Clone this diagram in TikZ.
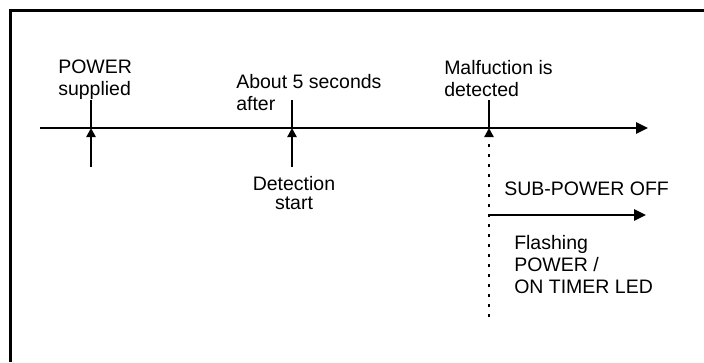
\documentclass[tikz,border=0pt]{standalone}
\usepackage{fontspec}
\setmainfont{Liberation Sans}
\usetikzlibrary{arrows.meta,positioning}

\begin{document}
\begin{tikzpicture}[x=1pt, y=-1pt, line width=2.5pt,
	every node/.style={inner sep=0pt, align=left, font=\fontsize{19.5}{22}\selectfont},
	bigtip/.style={-{Triangle[length=12pt, width=11pt]}},
	smalltip/.style={-{Triangle[length=9pt, width=9pt]}},
	dotline/.style={dash pattern=on 3pt off 7pt}]

	\useasboundingbox (0,0) rectangle (704,362);
	\draw[line width=3pt] (10,362) -- (10,10) -- (704,10);

	% time line
	\coordinate (t0) at (40,128);
	\coordinate (t1) at (648,128);
	\coordinate (p1) at (91,128);
	\coordinate (p1t) at (91,100);
	\coordinate (p1b) at (91,167);
	\coordinate (p2) at (292,128);
	\coordinate (p2t) at (292,100);
	\coordinate (p2b) at (292,167);
	\coordinate (p3) at (489,128);
	\coordinate (p3t) at (489,100);
	\coordinate (p3b) at (489,317);
	\coordinate (s0) at (489,215);
	\coordinate (s1) at (646,215);

	\node[anchor=north west] (pwr) at (57,59) {POWER\\supplied};
	\node[anchor=north west] (five) at (235,73) {About 5 seconds\\after};
	\node[anchor=north, align=center, font=\fontsize{19.5}{19}\selectfont] (det) at (294,175) {Detection\\start};
	\node[anchor=north west] (mal) at (443,59) {Malfuction is\\detected};
	\node[anchor=north west] (sub) at (503,181) {SUB-POWER OFF};
	\node[anchor=north west] (led) at (513,234) {Flashing\\POWER /\\ON TIMER LED};

	\draw[bigtip] (t0) -- (t1);
	\draw[smalltip] (p1b) -- (p1);
	\draw (p1) -- (p1t);
	\draw[smalltip] (p2b) -- (p2);
	\draw (p2) -- (p2t);
	\draw[smalltip, dotline] (p3b) -- (p3);
	\draw (p3) -- (p3t);
	\draw[bigtip] (s0) -- (s1);
\end{tikzpicture}
\end{document}
